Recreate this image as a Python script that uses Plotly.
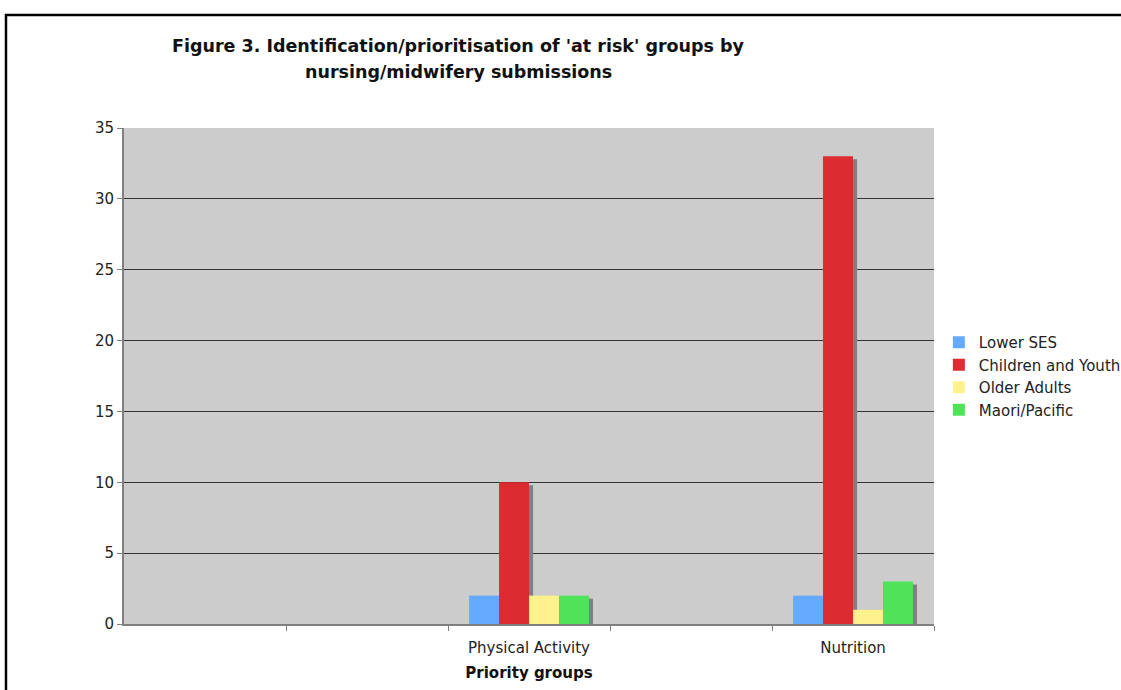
import plotly.graph_objects as go

category_positions = [0, 1, 2, 3, 4]
category_labels = ["", "", "Physical Activity", "", "Nutrition"]
series_names = ["Lower SES", "Children and Youth", "Older Adults", "Maori/Pacific"]
lower_ses = [None, None, 2, None, 2]
children_youth = [None, None, 10, None, 33]
older_adults = [None, None, 2, None, 1]
maori_pacific = [None, None, 2, None, 3]
series_values = [lower_ses, children_youth, older_adults, maori_pacific]
colors = ["#66AAFF", "#DC2C32", "#FFF28C", "#4EE358"]
y_ticks = [0, 5, 10, 15, 20, 25, 30, 35]

bar_w = 0.185
offsets = [-0.37, -0.185, 0.0, 0.185]
shadow_dx = 0.025
shadow_dy = 0.21

fig = go.Figure()
for name, vals, off in zip(series_names, series_values, offsets):
    fig.add_trace(go.Bar(
        x=category_positions, y=vals, base=[-shadow_dy if v is not None else None for v in vals],
        offset=off + shadow_dx, width=bar_w, marker=dict(color="#808080", line=dict(width=0)),
        showlegend=False, hoverinfo="skip"))
for name, vals, off, c in zip(series_names, series_values, offsets, colors):
    fig.add_trace(go.Bar(
        x=category_positions, y=vals, name=name, offset=off, width=bar_w,
        marker=dict(color=c, line=dict(width=0))))

labelled = [(p, t) for p, t in zip(category_positions, category_labels) if t]
boundaries = [p + 0.5 for p in category_positions]

font_family = "DejaVu Sans, Verdana, sans-serif"
fig.update_layout(
    width=1121, height=690,
    barmode="overlay",
    paper_bgcolor="white", plot_bgcolor="#CCCCCC",
    margin=dict(l=124, r=187, t=128, b=66, autoexpand=False),
    font=dict(family=font_family, size=15, color="#222222"),
    showlegend=True,
    legend=dict(x=1.006, xanchor="left", y=0.5, yanchor="middle",
                font=dict(size=15, color="#222222"), tracegroupgap=0,
                itemwidth=30, bgcolor="rgba(0,0,0,0)"),
    xaxis=dict(range=[-0.5, 4.5], tickmode="array",
               tickvals=[p for p, _ in labelled], ticktext=[t for _, t in labelled],
               ticks="", ticklabelstandoff=9,
               minor=dict(tickmode="array", tickvals=boundaries, ticks="outside",
                          ticklen=5, tickcolor="#808080", showgrid=False),
               showline=True, linecolor="#808080", linewidth=2,
               showgrid=False, zeroline=False,
               title=dict(text="<b>Priority groups</b>", font=dict(size=15, color="#111111"), standoff=11),
               tickfont=dict(size=15, color="#222222")),
    yaxis=dict(range=[0, 35], tickvals=y_ticks, ticks="outside", ticklen=5,
               tickcolor="#808080", showline=True, linecolor="#808080", linewidth=2,
               showgrid=True, gridcolor="#333333", gridwidth=1, zeroline=False,
               tickfont=dict(size=15, color="#222222")),
    shapes=[dict(type="rect", xref="paper", yref="paper",
                 x0=-0.1457, x1=1.6, y0=-0.5, y1=1.2278,
                 line=dict(color="black", width=2.5), fillcolor="rgba(0,0,0,0)", layer="below")],
    annotations=[
        dict(text="<b>Figure 3. Identification/prioritisation of 'at risk' groups by</b>",
             xref="paper", yref="paper", x=0.413, y=1.165, xanchor="center", yanchor="middle",
             showarrow=False, font=dict(size=17.5, color="#111111")),
        dict(text="<b>nursing/midwifery submissions</b>",
             xref="paper", yref="paper", x=0.413, y=1.113, xanchor="center", yanchor="middle",
             showarrow=False, font=dict(size=17.5, color="#111111")),
    ],
)

fig.write_html("out.html")
